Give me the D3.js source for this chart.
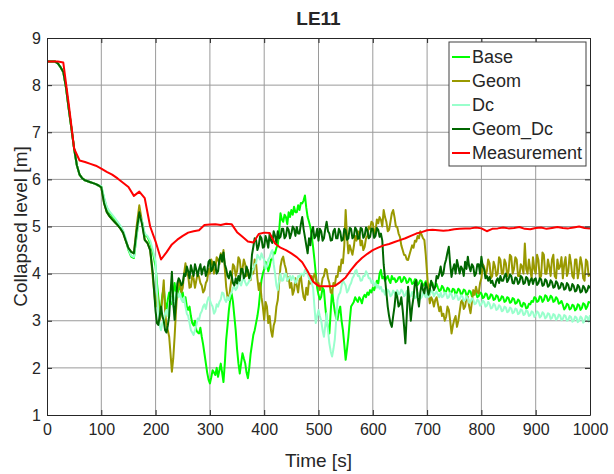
<!DOCTYPE html>
<html>
<head>
<meta charset="utf-8">
<script src="https://cdn.jsdelivr.net/npm/d3@7"></script>
<style>
  body { margin: 0; background: #fff; }
  text { font-family: "Liberation Sans", Arial, Helvetica, sans-serif; fill: #262626; }
</style>
</head>
<body>
<script>
// collapsed level, LE11 test
// simulations: every 5 s up to 195 s, then every 2.5 s; measurement every 10 s
var timeSim = d3.range(0, 200, 5).concat(d3.range(200, 1000.1, 2.5));
var timeMeas = d3.range(0, 1001, 10);

var seriesNames = ["Base", "Geom", "Dc", "Geom_Dc", "Measurement"];
var xTicks = [0, 100, 200, 300, 400, 500, 600, 700, 800, 900, 1000];
var yTicks = [1, 2, 3, 4, 5, 6, 7, 8, 9];

var base = [
  // 0 - 195 s
  8.5, 8.5, 8.5, 8.5, 8.46, 8.38, 8.28, 7.95, 7.5, 7.08,
  6.65, 6.3, 6.1, 6.02, 5.98, 5.96, 5.94, 5.92, 5.9, 5.87,
  5.85, 5.6, 5.4, 5.3, 5.22, 5.15, 5.08, 5.0, 4.9, 4.72,
  4.5, 4.36, 4.33, 4.8, 5.25, 5.1, 4.82, 4.78, 4.65, 4.45,
  // 200 - 1000 s
  4.15, 3.8, 3.5, 3.25, 3.3, 3.55, 3.7, 3.4, 3.2, 3.45, 3.6, 3.5, 3.35, 3.6, 3.8, 3.6, 3.55, 3.7, 3.75, 3.5,
  3.6, 3.4, 3.5, 3.3, 3.23, 3.3, 3.1, 2.95, 2.9, 3.0, 2.8, 2.75, 2.73, 2.85, 2.66, 2.5, 2.3, 2.1, 1.9, 1.75,
  1.67, 1.8, 1.95, 1.9, 1.85, 2.0, 1.81, 1.95, 2.09, 1.9, 1.7, 2.1, 2.6, 2.9, 3.23, 3.45, 3.58, 3.4, 3.1, 2.8,
  2.4, 2.1, 1.88, 2.1, 2.31, 2.2, 2.1, 1.9, 1.78, 2.0, 2.3, 2.5, 2.7, 2.8, 2.95, 3.1, 3.3, 3.6, 3.86, 4.0,
  4.1, 4.25, 4.22, 4.05, 4.15, 4.3, 4.3, 4.45, 4.43, 4.55, 4.6, 4.9, 5.28, 5.15, 5.1, 5.25, 5.2, 5.05, 5.3, 5.2,
  5.35, 5.25, 5.42, 5.3, 5.3, 5.45, 5.35, 5.5, 5.49, 5.55, 5.66, 5.4, 5.2, 5.1, 4.99, 4.8, 4.57, 4.3, 4.0, 3.7,
  3.55, 3.45, 3.51, 3.7, 3.65, 3.3, 3.02, 2.85, 2.73, 3.2, 3.65, 3.4, 3.2, 3.05, 3.02, 3.2, 3.3, 3.0, 2.8, 2.5,
  2.17, 2.4, 2.66, 3.0, 3.3, 3.35, 3.4, 3.5, 3.44, 3.4, 3.5, 3.45, 3.37, 3.5, 3.55, 3.5, 3.6, 3.55, 3.65, 3.6,
  3.7, 3.65, 3.75, 3.85, 3.79, 4.0, 4.08, 3.9, 3.93, 3.85, 3.9, 3.95, 3.86, 3.8, 3.95, 3.88, 3.9, 3.82, 3.85, 3.92,
  3.93, 3.82, 3.85, 3.93, 3.9, 3.8, 3.82, 3.9, 3.88, 3.78, 3.8, 3.88, 3.87, 3.76, 3.8, 3.86, 3.84, 3.74, 3.77, 3.84,
  3.82, 3.72, 3.75, 3.82, 3.8, 3.7, 3.72, 3.78, 3.7, 3.63, 3.65, 3.74, 3.7, 3.6, 3.62, 3.7, 3.68, 3.58, 3.6, 3.68,
  3.66, 3.56, 3.6, 3.68, 3.65, 3.55, 3.58, 3.66, 3.64, 3.54, 3.56, 3.64, 3.62, 3.52, 3.55, 3.62, 3.6, 3.5, 3.52, 3.6,
  3.58, 3.48, 3.5, 3.58, 3.56, 3.46, 3.48, 3.56, 3.54, 3.44, 3.46, 3.54, 3.52, 3.42, 3.44, 3.52, 3.5, 3.4, 3.42, 3.5,
  3.48, 3.38, 3.4, 3.48, 3.46, 3.36, 3.38, 3.45, 3.42, 3.32, 3.3, 3.38, 3.36, 3.26, 3.28, 3.36, 3.35, 3.42, 3.4, 3.5,
  3.48, 3.4, 3.42, 3.52, 3.5, 3.4, 3.44, 3.54, 3.52, 3.42, 3.45, 3.53, 3.5, 3.4, 3.42, 3.5, 3.46, 3.36, 3.38, 3.42,
  3.34, 3.24, 3.28, 3.36, 3.34, 3.24, 3.26, 3.34, 3.32, 3.22, 3.25, 3.35, 3.33, 3.23, 3.27, 3.37, 3.35, 3.25, 3.3, 3.4,
  3.38
];

var geom = [
  8.5, 8.5, 8.5, 8.5, 8.46, 8.38, 8.28, 7.95, 7.5, 7.08,
  6.65, 6.3, 6.1, 6.02, 5.98, 5.96, 5.94, 5.92, 5.9, 5.87,
  5.83, 5.5, 5.31, 5.22, 5.15, 5.09, 5.03, 4.96, 4.87, 4.7,
  4.54, 4.46, 4.43, 5.0, 5.45, 5.1, 4.72, 4.65, 4.5, 3.9,
  3.3, 3.6, 3.4, 3.0, 3.16, 3.5, 3.86, 3.2, 2.9, 2.8, 2.66, 2.3, 1.92, 2.2, 2.66, 3.2, 3.65, 3.85, 3.79, 3.6,
  3.7, 4.0, 4.22, 4.0, 3.95, 3.7, 3.72, 3.95, 3.9, 3.7, 3.86, 4.0, 3.93, 3.8, 3.75, 3.6, 3.65, 3.8, 3.86, 4.1,
  4.0, 4.3, 4.22, 4.0, 4.1, 4.35, 4.3, 4.2, 4.43, 4.3, 4.5, 4.1, 3.72, 3.5, 3.44, 3.7, 3.9, 4.2, 4.15, 3.95,
  4.05, 4.35, 4.29, 4.0, 4.1, 4.3, 4.2, 3.95, 4.08, 3.9, 3.86, 4.1, 4.0, 4.3, 4.22, 3.9, 3.65, 3.8, 3.5, 3.3,
  3.02, 3.4, 3.3, 2.95, 3.1, 2.8, 2.66, 2.9, 3.0, 3.3, 3.44, 3.8, 4.15, 4.3, 4.36, 4.2, 4.1, 3.85, 3.93, 3.7,
  3.8, 3.55, 3.65, 3.9, 3.75, 3.6, 3.86, 3.95, 3.7, 3.5, 3.44, 3.7, 3.55, 3.85, 3.79, 3.95, 3.85, 4.0, 3.93, 3.75,
  3.8, 3.65, 3.72, 3.9, 3.95, 4.1, 4.08, 3.9, 3.8, 3.6, 3.58, 3.8, 3.75, 3.95, 3.93, 4.15, 4.05, 4.3, 4.22, 4.6,
  5.35, 4.8, 4.43, 4.6, 4.5, 4.4, 4.57, 4.8, 4.7, 4.9, 4.85, 4.6, 4.7, 4.5, 4.57, 4.75, 4.8, 5.0, 4.95, 5.1,
  5.07, 4.85, 4.9, 5.15, 5.07, 5.2, 5.14, 5.0, 5.35, 5.2, 5.1, 4.9, 4.93, 5.1, 5.28, 5.35, 5.2, 5.0, 4.99, 4.85,
  4.78, 4.6, 4.5, 4.4, 4.39, 4.3, 4.29, 4.4, 4.5, 4.6, 4.55, 4.7, 4.68, 4.8, 4.75, 4.9, 4.82, 4.75, 4.71, 4.4,
  4.0, 3.6, 3.37, 3.5, 3.44, 3.3, 3.44, 3.5, 3.35, 3.2, 3.3, 3.1, 3.15, 3.0, 3.08, 3.3, 3.23, 3.0, 2.73, 2.9,
  3.02, 3.1, 2.87, 3.0, 3.2, 3.4, 3.44, 3.25, 3.3, 3.5, 3.51, 3.3, 3.16, 3.4, 3.65, 3.55, 3.72, 3.6, 3.58, 3.8,
  3.9, 4.2, 4.15, 3.95, 4.05, 4.3, 4.22, 3.9, 3.95, 4.25, 4.15, 3.95, 4.0, 4.35, 4.29, 4.0, 4.0, 4.3, 4.22, 3.95,
  4.05, 4.4, 4.36, 4.0, 4.1, 4.35, 4.3, 3.95, 3.95, 4.2, 4.15, 4.0, 4.64, 4.1, 4.0, 4.3, 4.08, 3.9, 4.35, 4.1,
  4.0, 4.4, 4.29, 3.9, 3.95, 4.45, 4.4, 4.0, 4.0, 4.3, 4.15, 3.95, 4.3, 4.4, 3.95, 3.9, 4.3, 4.1, 4.15, 4.35,
  3.9, 4.2, 4.35, 3.95, 4.05, 4.4, 4.22, 3.95, 3.9, 4.3, 4.3, 3.9, 4.08, 4.35, 4.2, 3.9, 3.85, 4.3, 4.25, 3.95,
  4.0
];

var dc = [
  8.5, 8.5, 8.5, 8.5, 8.46, 8.38, 8.28, 7.95, 7.5, 7.08,
  6.65, 6.3, 6.1, 6.02, 5.98, 5.96, 5.94, 5.92, 5.9, 5.87,
  5.86, 5.62, 5.42, 5.32, 5.25, 5.18, 5.1, 5.02, 4.92, 4.75,
  4.52, 4.38, 4.35, 4.8, 5.25, 5.12, 4.85, 4.8, 4.7, 4.5,
  4.25, 3.6, 3.2, 2.9, 2.8, 2.95, 3.0, 3.15, 3.23, 3.1, 3.35, 3.45, 3.5, 3.3, 3.45, 3.6, 3.58, 3.5, 3.58, 3.45,
  3.4, 3.5, 3.3, 3.15, 3.1, 2.95, 2.8, 2.75, 2.7, 2.8, 2.9, 3.05, 3.02, 3.15, 3.2, 3.3, 3.35, 3.25, 3.4, 3.5,
  3.44, 3.35, 3.3, 3.15, 3.2, 3.35, 3.3, 3.4, 3.45, 3.6, 3.58, 3.45, 3.4, 3.5, 3.44, 3.55, 3.6, 3.7, 3.72, 3.65,
  3.7, 3.85, 3.8, 3.75, 3.86, 3.9, 3.82, 3.75, 3.79, 3.85, 3.9, 4.05, 4.1, 4.2, 4.22, 4.4, 4.35, 4.3, 4.43, 4.35,
  4.3, 4.1, 4.15, 4.3, 4.35, 4.45, 4.5, 4.2, 4.0, 3.75, 3.65, 3.85, 4.0, 3.85, 3.86, 4.0, 4.0, 3.85, 3.9, 3.95,
  3.86, 3.95, 3.9, 3.8, 3.85, 3.95, 3.93, 4.0, 4.0, 3.95, 4.08, 4.05, 4.0, 3.9, 3.86, 3.8, 3.7, 3.3, 2.95, 3.1,
  3.23, 3.1, 3.0, 2.8, 2.66, 2.9, 3.16, 2.8, 2.52, 2.35, 2.24, 2.4, 2.6, 3.0, 3.44, 3.55, 3.6, 3.75, 3.86, 3.8,
  3.75, 3.6, 3.65, 3.75, 3.8, 3.9, 3.95, 4.05, 4.08, 3.95, 3.95, 3.85, 3.86, 3.95, 3.95, 4.05, 4.0, 3.9, 3.9, 3.8,
  3.85, 3.75, 3.8, 3.7, 3.75, 3.68, 3.72, 3.62, 3.65, 3.55, 3.58, 3.66, 3.62, 3.52, 3.55, 3.64, 3.6, 3.52, 3.65, 3.56,
  3.58, 3.66, 3.62, 3.52, 3.55, 3.63, 3.6, 3.5, 3.52, 3.61, 3.58, 3.48, 3.5, 3.6, 3.56, 3.47, 3.5, 3.6, 3.55, 3.5,
  3.6, 3.5, 3.55, 3.64, 3.62, 3.52, 3.58, 3.62, 3.55, 3.5, 3.6, 3.5, 3.52, 3.6, 3.58, 3.48, 3.5, 3.6, 3.56, 3.46,
  3.48, 3.56, 3.54, 3.44, 3.46, 3.54, 3.52, 3.42, 3.44, 3.52, 3.48, 3.38, 3.4, 3.48, 3.45, 3.35, 3.37, 3.45, 3.42, 3.32,
  3.35, 3.43, 3.4, 3.3, 3.32, 3.4, 3.36, 3.26, 3.28, 3.36, 3.33, 3.23, 3.25, 3.33, 3.3, 3.2, 3.22, 3.3, 3.28, 3.18,
  3.2, 3.28, 3.26, 3.16, 3.18, 3.26, 3.24, 3.14, 3.16, 3.24, 3.22, 3.12, 3.14, 3.22, 3.2, 3.1, 3.12, 3.2, 3.18, 3.08,
  3.12, 3.2, 3.17, 3.07, 3.1, 3.18, 3.15, 3.05, 3.08, 3.16, 3.14, 3.04, 3.06, 3.14, 3.12, 3.02, 3.05, 3.13, 3.11, 3.01,
  3.04, 3.12, 3.1, 3.0, 3.02, 3.1, 3.08, 2.98, 3.0, 3.09, 3.07, 2.97, 3.0, 3.09, 3.06, 2.96, 2.99, 3.1, 3.08, 2.98,
  3.12
];

var geomDc = [
  8.5, 8.5, 8.5, 8.5, 8.46, 8.38, 8.28, 7.95, 7.5, 7.08,
  6.65, 6.3, 6.1, 6.02, 5.98, 5.96, 5.94, 5.92, 5.9, 5.87,
  5.83, 5.5, 5.31, 5.22, 5.15, 5.09, 5.03, 4.96, 4.87, 4.7,
  4.54, 4.46, 4.43, 4.9, 5.3, 5.05, 4.71, 4.65, 4.5, 4.0,
  3.2, 2.95, 2.91, 3.1, 3.3, 3.1, 3.0, 2.8, 2.75, 2.9, 3.1, 3.6, 4.04, 3.4, 3.02, 3.4, 3.79, 3.9, 3.85, 3.75,
  3.8, 4.0, 3.95, 4.15, 4.05, 3.9, 4.18, 4.05, 3.95, 4.2, 4.08, 3.95, 4.1, 4.2, 3.98, 4.1, 4.15, 3.95, 4.05, 4.25,
  4.29, 4.05, 4.1, 4.25, 4.18, 4.0, 4.05, 4.3, 4.4, 4.25, 4.45, 4.2, 4.1, 3.95, 3.9, 4.05, 3.95, 3.8, 3.75, 3.9,
  3.79, 3.95, 3.85, 4.1, 4.1, 3.9, 3.95, 4.15, 4.05, 3.9, 4.0, 4.4, 4.57, 4.75, 4.71, 4.5, 4.6, 4.8, 4.75, 4.55,
  4.57, 4.8, 4.7, 4.55, 4.85, 4.7, 4.65, 4.9, 4.8, 4.65, 4.9, 4.75, 4.78, 4.95, 4.95, 4.75, 4.8, 4.98, 4.93, 4.75,
  4.85, 5.0, 4.95, 4.8, 4.99, 4.85, 4.85, 5.05, 5.2, 4.95, 4.78, 4.6, 4.43, 4.75, 4.6, 4.9, 4.99, 4.75, 4.8, 4.95,
  4.7, 4.95, 4.9, 4.7, 4.75, 4.95, 5.1, 4.9, 4.85, 4.7, 4.71, 4.9, 4.95, 4.75, 4.75, 4.95, 4.89, 4.7, 4.72, 4.95,
  4.92, 4.72, 4.75, 4.97, 4.95, 4.75, 4.78, 4.98, 4.93, 4.74, 4.75, 4.97, 4.95, 4.76, 4.8, 4.98, 4.92, 4.75, 4.78, 4.96,
  4.95, 4.76, 4.8, 4.97, 4.93, 4.78, 4.85, 4.7, 4.2, 3.9, 3.6, 3.3, 3.1, 2.95, 2.87, 3.1, 3.3, 3.6, 3.51, 3.3,
  3.35, 3.5, 3.23, 2.9, 2.52, 3.1, 3.72, 3.4, 3.0, 3.3, 3.5, 3.8, 3.86, 3.5, 3.3, 3.6, 3.79, 3.65, 3.58, 3.8,
  3.7, 3.55, 3.65, 3.85, 3.75, 3.65, 3.72, 3.95, 3.9, 4.0, 4.15, 3.95, 4.0, 4.2, 4.3, 4.45, 4.57, 4.2, 3.93, 4.1,
  4.2, 4.0, 4.29, 4.15, 4.0, 4.15, 4.1, 3.95, 4.25, 4.1, 4.36, 4.15, 4.05, 4.2, 4.15, 3.95, 4.0, 4.2, 4.2, 4.0,
  4.36, 4.15, 4.1, 3.9, 3.95, 3.85, 3.93, 3.8, 3.85, 3.75, 3.72, 3.85, 3.9, 3.8, 3.95, 3.85, 3.85, 3.95, 4.0, 3.82,
  3.88, 3.98, 3.95, 3.8, 3.79, 3.92, 3.9, 3.78, 3.82, 3.95, 3.92, 3.78, 3.8, 3.93, 3.9, 3.76, 3.86, 3.9, 3.78, 3.88,
  3.9, 3.76, 3.8, 3.9, 3.88, 3.74, 3.76, 3.88, 3.85, 3.72, 3.75, 3.86, 3.82, 3.7, 3.72, 3.84, 3.8, 3.68, 3.7, 3.8,
  3.78, 3.66, 3.68, 3.8, 3.76, 3.64, 3.66, 3.78, 3.74, 3.62, 3.64, 3.76, 3.72, 3.6, 3.62, 3.74, 3.7, 3.6, 3.64, 3.74,
  3.69
];

var measurement = [
  8.5, 8.5, 8.5, 8.48, 7.6, 6.65, 6.4, 6.37, 6.33, 6.29,
  6.23, 6.16, 6.1, 6.02, 5.93, 5.84, 5.65, 5.74, 5.6, 5.0,
  4.68, 4.3, 4.45, 4.62, 4.72, 4.8, 4.87, 4.9, 4.92, 5.03,
  5.04, 5.05, 5.03, 5.06, 5.05, 4.88, 4.78, 4.68, 4.66, 4.84,
  4.87, 4.86, 4.64, 4.55, 4.5, 4.43, 4.35, 4.24, 4.05, 3.83,
  3.74, 3.73, 3.73, 3.74, 3.82, 3.92, 4.08, 4.22, 4.33, 4.42,
  4.5, 4.55, 4.6, 4.63, 4.67, 4.71, 4.75, 4.8, 4.85, 4.88,
  4.92, 4.93, 4.92, 4.91, 4.92, 4.94, 4.95, 4.96, 4.96, 4.98,
  4.96, 4.9, 4.95, 4.96, 4.98, 4.96, 4.97, 4.99, 4.95, 4.94,
  4.97, 4.98, 4.95, 4.97, 4.99, 4.97, 4.96, 4.98, 5.0, 4.97,
  4.96
];

var lineColors = ["#00ff00", "#999900", "#99ffcc", "#006600", "#ff0000"];

var width = 614, height = 474;
var plot = {left: 47, right: 590, top: 38, bottom: 415};

var svg = d3.select("body").append("svg")
    .attr("width", width)
    .attr("height", height);

var x = d3.scaleLinear().domain([0, 1000]).range([plot.left, plot.right]);
var y = d3.scaleLinear().domain([1, 9]).range([plot.bottom, plot.top]);

// grid
svg.append("g").selectAll("line").data(xTicks.slice(1, -1)).enter().append("line")
    .attr("x1", function(d) { return x(d); })
    .attr("x2", function(d) { return x(d); })
    .attr("y1", plot.top).attr("y2", plot.bottom)
    .attr("stroke", "#9a9a9a").attr("stroke-width", 1);
svg.append("g").selectAll("line").data(yTicks.slice(1, -1)).enter().append("line")
    .attr("y1", function(d) { return y(d); })
    .attr("y2", function(d) { return y(d); })
    .attr("x1", plot.left).attr("x2", plot.right)
    .attr("stroke", "#9a9a9a").attr("stroke-width", 1);

// curves
svg.append("clipPath").attr("id", "clip").append("rect")
    .attr("x", plot.left).attr("y", plot.top)
    .attr("width", plot.right - plot.left).attr("height", plot.bottom - plot.top);

var allSeries = [
    {values: base, time: timeSim},
    {values: geom, time: timeSim},
    {values: dc, time: timeSim},
    {values: geomDc, time: timeSim},
    {values: measurement, time: timeMeas}
];

var curves = svg.append("g").attr("clip-path", "url(#clip)");
allSeries.forEach(function(s, k) {
    var line = d3.line()
        .x(function(d, i) { return x(s.time[i]); })
        .y(function(d) { return y(d); });
    curves.append("path")
        .attr("d", line(s.values))
        .attr("fill", "none")
        .attr("stroke", lineColors[k])
        .attr("stroke-width", 2)
        .attr("stroke-linejoin", "round");
});

// axes, ticks point inward
var axisColor = "#262626";
function styleAxis(g) {
    g.selectAll("path, line").attr("stroke", axisColor);
    g.selectAll("text").attr("fill", axisColor).style("font-size", "16px")
        .style("font-family", '"Liberation Sans", Arial, sans-serif');
}
svg.append("g").attr("transform", "translate(0," + plot.bottom + ")")
    .call(d3.axisBottom(x).tickValues(xTicks).tickFormat(d3.format("d"))
        .tickSizeInner(-5).tickSizeOuter(0).tickPadding(9))
    .call(styleAxis);
svg.append("g").attr("transform", "translate(0," + plot.top + ")")
    .call(d3.axisTop(x).tickValues(xTicks).tickSizeInner(-5).tickSizeOuter(0).tickFormat(""))
    .call(styleAxis);
svg.append("g").attr("transform", "translate(" + plot.left + ",0)")
    .call(d3.axisLeft(y).tickValues(yTicks).tickFormat(d3.format("d"))
        .tickSizeInner(-5).tickSizeOuter(0).tickPadding(6))
    .call(styleAxis);
svg.append("g").attr("transform", "translate(" + plot.right + ",0)")
    .call(d3.axisRight(y).tickValues(yTicks).tickSizeInner(-5).tickSizeOuter(0).tickFormat(""))
    .call(styleAxis);

// labels
svg.append("text")
    .attr("x", (plot.left + plot.right) / 2).attr("y", 25)
    .attr("text-anchor", "middle")
    .style("font-size", "19px").style("font-weight", "bold")
    .attr("fill", "#000")
    .text("LE11");
svg.append("text")
    .attr("x", (plot.left + plot.right) / 2).attr("y", 467)
    .attr("text-anchor", "middle")
    .style("font-size", "19px")
    .text("Time [s]");
svg.append("text")
    .attr("transform", "translate(27," + ((plot.top + plot.bottom) / 2) + ") rotate(-90)")
    .attr("text-anchor", "middle")
    .style("font-size", "19px")
    .text("Collapsed level [m]");

// legend
var legend = svg.append("g").attr("transform", "translate(449,42)");
legend.append("rect")
    .attr("width", 137).attr("height", 124)
    .attr("fill", "#fff").attr("stroke", "#404040").attr("stroke-width", 1);
var item = legend.selectAll("g.item").data(seriesNames).enter().append("g")
    .attr("class", "item")
    .attr("transform", function(d, i) { return "translate(0," + (15 + i * 24) + ")"; });
item.append("line")
    .attr("x1", 3).attr("x2", 21)
    .attr("stroke", function(d, i) { return lineColors[i]; })
    .attr("stroke-width", 2);
item.append("text")
    .attr("x", 23).attr("dy", "0.36em")
    .style("font-size", "18px")
    .attr("fill", "#000")
    .text(function(d) { return d; });
</script>
</body>
</html>
